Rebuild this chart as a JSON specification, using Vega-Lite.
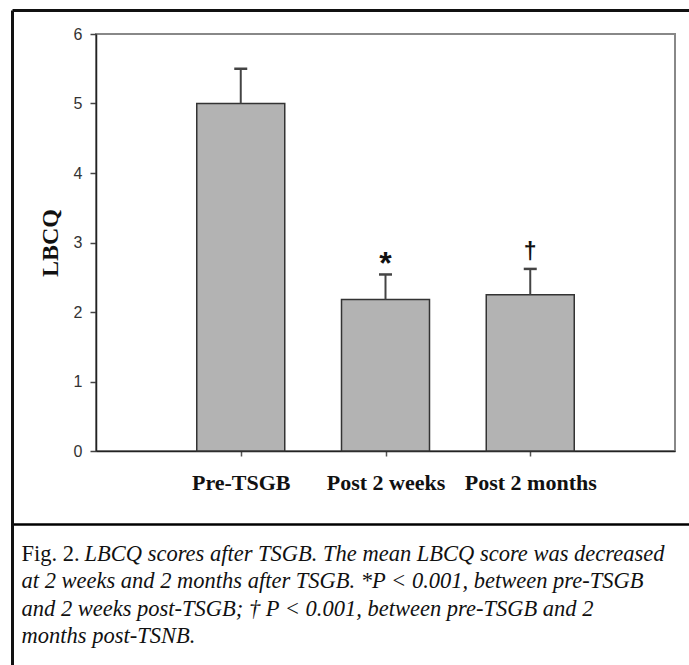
{
  "$schema": "https://vega.github.io/schema/vega-lite/v6.json",
  "padding": {"left": 11, "top": 9, "right": 0, "bottom": 0},
  "background": "white",
  "spacing": 0,
  "datasets": {
    "bars": [
      {"group": "Pre-TSGB", "mean": 5.0, "upper": 5.5, "sig": ""},
      {"group": "Post 2 weeks", "mean": 2.18, "upper": 2.54, "sig": "*"},
      {"group": "Post 2 months", "mean": 2.25, "upper": 2.62, "sig": "†"}
    ],
    "caption": [
      {"line": 1, "part": "label", "text": "Fig. 2."},
      {"line": 1, "part": "body", "text": "LBCQ scores after TSGB. The mean LBCQ score was decreased"},
      {"line": 2, "part": "body", "text": "at 2 weeks and 2 months after TSGB. *P < 0.001, between pre-TSGB"},
      {"line": 3, "part": "body", "text": "and 2 weeks post-TSGB; † P < 0.001, between pre-TSGB and 2"},
      {"line": 4, "part": "body", "text": "months post-TSNB."}
    ]
  },
  "config": {
    "view": {"stroke": "#888888", "strokeWidth": 2},
    "axis": {"grid": false}
  },
  "vconcat": [
    {
      "width": 579,
      "height": 417,
      "resolve": {"scale": {"x": "independent", "y": "independent"}, "axis": {"x": "independent", "y": "independent"}},
      "layer": [
        {
          "data": {"name": "bars"},
          "encoding": {
            "x": {
              "field": "group",
              "type": "nominal",
              "sort": null,
              "title": null,
              "scale": {"type": "point", "padding": 1, "domain": ["Pre-TSGB", "Post 2 weeks", "Post 2 months"]},
              "axis": {
                "labelFont": "Liberation Serif",
                "labelFontWeight": "bold",
                "labelFontSize": 22,
                "labelColor": "#111111",
                "labelAngle": 0,
                "labelPadding": 16,
                "tickSize": 5,
                "tickColor": "#555555",
                "tickWidth": 1.5,
                "domainColor": "#222222",
                "domainWidth": 1.5
              }
            }
          },
          "layer": [
            {
              "mark": {"type": "bar", "width": 88, "fill": "#b3b3b3", "stroke": "#333333", "strokeWidth": 1.5},
              "encoding": {
                "y": {
                  "field": "mean",
                  "type": "quantitative",
                  "title": "LBCQ",
                  "scale": {"domain": [0, 6], "nice": false},
                  "axis": {
                    "values": [0, 1, 2, 3, 4, 5, 6],
                    "format": "d",
                    "labelFont": "Liberation Sans",
                    "labelFontSize": 16,
                    "labelColor": "#333333",
                    "labelPadding": 8,
                    "tickSize": 6,
                    "tickColor": "#444444",
                    "tickWidth": 1.5,
                    "domainColor": "#222222",
                    "domainWidth": 1.5,
                    "titleFont": "Liberation Serif",
                    "titleFontSize": 24,
                    "titleFontWeight": "bold",
                    "titleColor": "#111111",
                    "titleX": -39,
                    "titleY": 208.5,
                    "titleAngle": -90,
                    "titleAlign": "center",
                    "titleBaseline": "alphabetic"
                  }
                }
              }
            },
            {
              "mark": {"type": "rule", "stroke": "#444444", "strokeWidth": 2},
              "encoding": {
                "y": {"field": "mean", "type": "quantitative", "title": "LBCQ"},
                "y2": {"field": "upper"}
              }
            },
            {
              "mark": {"type": "tick", "color": "#444444", "size": 13, "thickness": 2.5, "opacity": 1},
              "encoding": {
                "y": {"field": "upper", "type": "quantitative", "title": "LBCQ"}
              }
            },
            {
              "transform": [{"filter": "datum.sig == '*'"}],
              "mark": {"type": "text", "font": "Liberation Sans", "fontWeight": "bold", "fontSize": 32, "baseline": "alphabetic", "align": "center", "dy": 0, "color": "#111111"},
              "encoding": {
                "y": {"field": "upper", "type": "quantitative", "title": "LBCQ"},
                "text": {"field": "sig"}
              }
            },
            {
              "transform": [{"filter": "datum.sig == '†'"}],
              "mark": {"type": "text", "font": "Liberation Sans", "fontWeight": "bold", "fontSize": 23, "baseline": "alphabetic", "align": "center", "dy": -10, "color": "#111111"},
              "encoding": {
                "y": {"field": "upper", "type": "quantitative", "title": "LBCQ"},
                "text": {"field": "sig"}
              }
            }
          ]
        },
        {
          "data": {"values": [{"frame": "outer"}]},
          "mark": {"type": "text", "text": ""},
          "encoding": {
            "x": {
              "datum": 0,
              "type": "quantitative",
              "scale": {"domain": [0, 1], "range": [-84, 593]},
              "axis": {"orient": "top", "offset": 24, "title": null, "labels": false, "ticks": false, "domain": true, "domainColor": "#111111", "domainWidth": 3, "minExtent": 0}
            },
            "y": {
              "datum": 0,
              "type": "quantitative",
              "scale": {"domain": [0, 1], "range": [465, -24]},
              "axis": {"orient": "left", "offset": 84, "title": null, "labels": false, "ticks": false, "domain": true, "domainColor": "#111111", "domainWidth": 3, "minExtent": 0}
            }
          }
        }
      ]
    },
    {
      "width": 593,
      "height": 138,
      "view": {"stroke": null},
      "resolve": {"scale": {"y": "independent"}, "axis": {"y": "independent"}},
      "encoding": {
        "x": {
          "datum": 0,
          "type": "quantitative",
          "scale": {"domain": [0, 1], "range": [-84, 593]},
          "axis": {"orient": "top", "title": null, "labels": false, "ticks": false, "domain": true, "domainColor": "#000000", "domainWidth": 2.5, "minExtent": 0}
        }
      },
      "layer": [
        {
          "data": {"name": "caption"},
          "encoding": {
            "y": {
              "field": "line",
              "type": "ordinal",
              "scale": {"type": "point", "padding": 1.1},
              "axis": null
            },
            "text": {"field": "text"}
          },
          "layer": [
            {
              "transform": [{"filter": "datum.part == 'label'"}],
              "mark": {"type": "text", "font": "Liberation Serif", "fontSize": 22.5, "align": "left", "baseline": "alphabetic", "dx": 9.5, "dy": 9, "color": "#111111"}
            },
            {
              "transform": [{"filter": "datum.part == 'body' && datum.line == 1"}],
              "mark": {"type": "text", "font": "Liberation Serif", "fontStyle": "italic", "fontSize": 22.5, "align": "left", "baseline": "alphabetic", "dx": 72.5, "dy": 9, "color": "#111111"}
            },
            {
              "transform": [{"filter": "datum.line > 1"}],
              "mark": {"type": "text", "font": "Liberation Serif", "fontStyle": "italic", "fontSize": 22.5, "align": "left", "baseline": "alphabetic", "dx": 9.5, "dy": 9, "color": "#111111"}
            }
          ]
        },
        {
          "data": {"values": [{"frame": "outer"}]},
          "mark": {"type": "text", "text": ""},
          "encoding": {
            "y": {
              "datum": 0,
              "type": "quantitative",
              "scale": {"domain": [0, 1], "range": [170, -30]},
              "axis": {"orient": "left", "offset": 84, "title": null, "labels": false, "ticks": false, "domain": true, "domainColor": "#111111", "domainWidth": 3, "minExtent": 0}
            }
          }
        }
      ]
    }
  ]
}
